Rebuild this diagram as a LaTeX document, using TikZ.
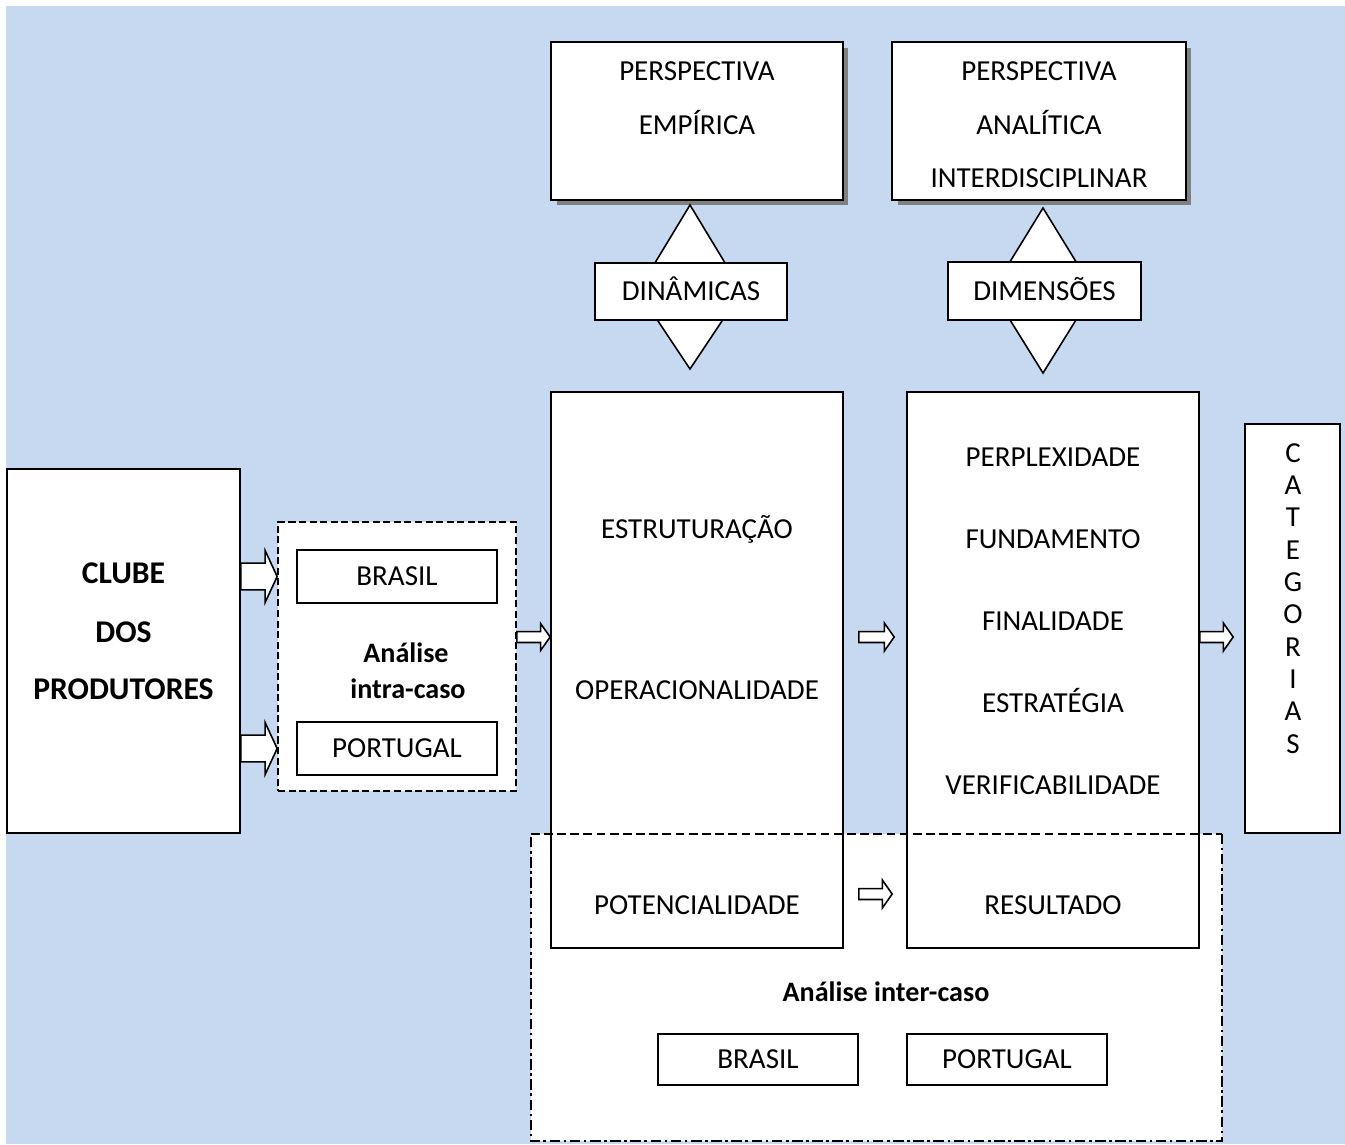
\documentclass[tikz,border=0pt]{standalone}
\usepackage{fontspec}
\setmainfont{Carlito}
\usetikzlibrary{calc,shadows}
\definecolor{fundo}{RGB}{198,217,240}
\definecolor{sombra}{RGB}{128,128,128}

% seta larga: origem, destino, meia haste, meia cabeca, comprimento da cabeca
\newcommand{\blockarrow}[5]{%
  \draw[seta] let \p1=(#1), \p2=(#2) in
    (\x1,\y1+#3) -- (\x2-#5,\y1+#3) -- (\x2-#5,\y1+#4) -- (\x2,\y1)
    -- (\x2-#5,\y1-#4) -- (\x2-#5,\y1-#3) -- (\x1,\y1-#3) -- cycle;}

\begin{document}
\begin{tikzpicture}[x=0.02cm, y=-0.02cm,
    caixa/.style = {rectangle, draw, line width=1pt, fill=white,
      inner sep=0pt},
    tracejada/.style = {caixa, dash pattern=on 4pt off 2pt},
    sombreada/.style = {caixa, drop shadow={shadow xshift=0.11cm,
        shadow yshift=-0.11cm, fill=sombra, opacity=1}},
    txt/.style = {inner sep=0pt, text height=10.6pt, text depth=0pt,
      font=\fontsize{16.5}{20}\selectfont},
    negrito/.style = {inner sep=0pt, text height=11.6pt, text depth=0pt,
      font=\fontsize{18}{20}\selectfont\bfseries},
    analise/.style = {inner sep=0pt, text height=10.6pt, text depth=0pt,
      font=\fontsize{16}{20}\selectfont\bfseries},
    seta/.style = {draw, line width=0.9pt, fill=white, line join=miter},
    pontilha/.style = {line width=1pt, dash pattern=on 6pt off 2pt on 1.5pt off 2pt}]
  \useasboundingbox (0,0) rectangle (1345,1144);
  \fill[fundo] (6,6) rectangle (1345,1144);
  \coordinate (linhaA) at (0,637);
  \coordinate (linhaB) at (0,894);

  % analise inter-caso (fundo)
  \node[fill=white, inner sep=0pt, minimum width=13.82cm,
  minimum height=6.14cm] (inter) at (876.5,987.5) {};

  % perspectivas
  \node[sombreada, minimum width=5.84cm, minimum height=3.16cm]
  (empirica) at (697,121) {};
  \node[sombreada, minimum width=5.88cm, minimum height=3.16cm]
  (analitica) at (1039,121) {};
  \foreach \t/\y in {PERSPECTIVA/71, EMPÍRICA/125}
  \node[txt] (emp\y) at (697,\y) {\t};
  \foreach \t/\y in {PERSPECTIVA/71, ANALÍTICA/125, INTERDISCIPLINAR/178}
  \node[txt] (ana\y) at (1039,\y) {\t};

  % losangos
  \draw[seta] (690,205) -- (742,291) -- (690,369) -- (638,291) -- cycle;
  \draw[seta] (1043,208) -- (1094,291) -- (1043,373) -- (992,291) -- cycle;
  \node[caixa, txt, minimum width=3.84cm, minimum height=1.14cm]
  (dinamicas) at (691,291.5) {DINÂMICAS};
  \node[caixa, txt, minimum width=3.86cm, minimum height=1.16cm]
  (dimensoes) at (1044.5,291) {DIMENSÕES};

  % clube
  \node[caixa, minimum width=4.66cm, minimum height=7.28cm]
  (clube) at (123.5,651) {};
  \foreach \t/\y in {CLUBE/573, DOS/632, PRODUTORES/689}
  \node[negrito] (clube\y) at (123.5,\y) {\t};

  % analise intra-caso
  \node[tracejada, minimum width=4.76cm, minimum height=5.38cm]
  (intra) at (397,656.5) {};
  \node[caixa, txt, minimum width=4cm, minimum height=1.06cm]
  (brasilA) at (397,576.5) {BRASIL};
  \node[caixa, txt, minimum width=4cm, minimum height=1.06cm]
  (portugalA) at (397,748.5) {PORTUGAL};
  \node[analise] (intra1) at (406,653) {Análise};
  \node[analise] (intra2) at (408,689) {intra-caso};

  % caixas centrais
  \node[caixa, minimum width=5.84cm, minimum height=11.12cm]
  (meio) at (697,670) {};
  \node[caixa, minimum width=5.84cm, minimum height=11.12cm]
  (direita) at (1053,670) {};
  \foreach \t/\y in {ESTRUTURAÇÃO/529, OPERACIONALIDADE/690,
    POTENCIALIDADE/905}
  \node[txt] (meio\y) at (697,\y) {\t};
  \foreach \t/\y in {PERPLEXIDADE/457, FUNDAMENTO/539, FINALIDADE/621,
    ESTRATÉGIA/703, VERIFICABILIDADE/785, RESULTADO/905}
  \node[txt] (dir\y) at (1053,\y) {\t};

  % categorias
  \node[caixa, minimum width=1.9cm, minimum height=8.18cm]
  (categorias) at (1292.5,628.5) {};
  \foreach \l [count=\i from 0] in {C,A,T,E,G,O,R,I,A,S}
  \node[txt] (cat\i) at (1293,453+32.3*\i) {\l};

  % contorno inter-caso
  \draw[pontilha, dash pattern=on 5pt off 2.5pt]
  (inter.north west) -- (inter.north east);
  \draw[pontilha] (inter.north east) -- (inter.south east)
  -- (inter.south west) -- (inter.north west);
  \node[analise] (intertit) at (886,992) {Análise inter-caso};
  \node[caixa, txt, minimum width=4cm, minimum height=1.02cm]
  (brasilB) at (758,1059.5) {BRASIL};
  \node[caixa, txt, minimum width=4cm, minimum height=1.02cm]
  (portugalB) at (1007,1059.5) {PORTUGAL};

  % setas
  \blockarrow{clube.east |- brasilA}{intra.west |- brasilA}{7.6pt}{14.7pt}{6.8pt}
  \blockarrow{clube.east |- portugalA}{intra.west |- portugalA}{7.6pt}{14.7pt}{6.8pt}
  \blockarrow{intra.east |- linhaA}{meio.west |- linhaA}{3.1pt}{7.6pt}{5.4pt}
  \blockarrow{$(meio.east |- linhaA)+(15,0)$}{$(direita.west |- linhaA)+(-12,0)$}{3.1pt}{8pt}{5.6pt}
  \blockarrow{$(meio.east |- linhaB)+(15,0)$}{$(direita.west |- linhaB)+(-14,0)$}{3.1pt}{8pt}{5.6pt}
  \blockarrow{direita.east |- linhaA}{$(categorias.west |- linhaA)+(-11,0)$}{3.1pt}{8pt}{5.6pt}
\end{tikzpicture}
\end{document}
